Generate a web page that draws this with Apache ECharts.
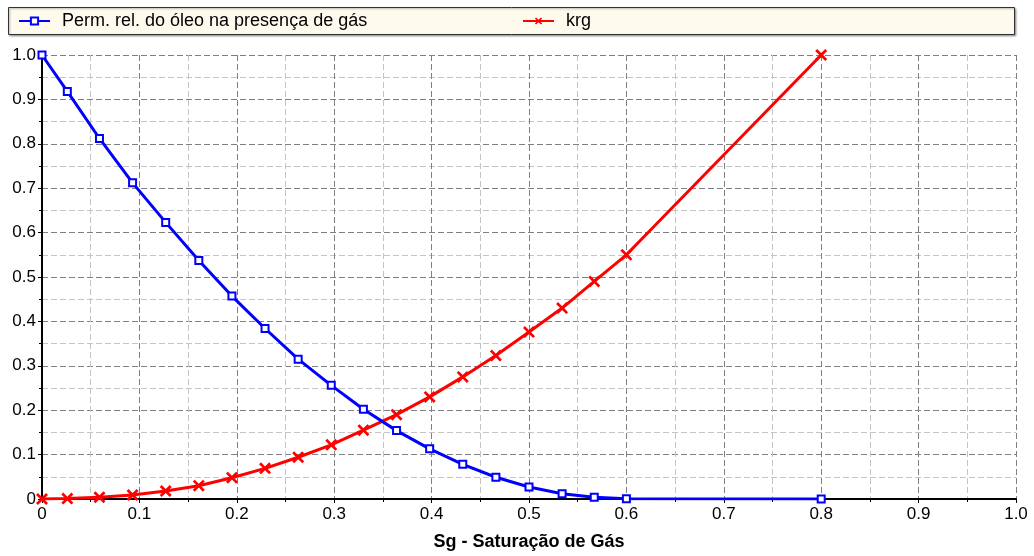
<!DOCTYPE html>
<html>
<head>
<meta charset="utf-8">
<title>Permeabilidade relativa</title>
<script src="https://cdn.jsdelivr.net/npm/echarts@6/dist/echarts.min.js"></script>
<style>
  html, body { margin: 0; padding: 0; background: #fff; overflow: hidden; }
  #main { width: 1034px; height: 556px; }
</style>
</head>
<body>
<div id="main"></div>
<script>
    // Sg - saturação de gás (eixo x)
    var sg  = [0, 0.026, 0.059, 0.093, 0.127, 0.161, 0.195, 0.229, 0.263, 0.297,
               0.330, 0.364, 0.398, 0.432, 0.466, 0.500, 0.534, 0.567, 0.600, 0.800];
    // permeabilidade relativa do óleo na presença de gás
    var kro = [1.000, 0.918, 0.812, 0.712, 0.623, 0.537, 0.457, 0.384, 0.315, 0.256,
               0.202, 0.154, 0.113, 0.078, 0.049, 0.027, 0.012, 0.004, 0.0005, 0];
    // permeabilidade relativa do gás
    var krg = [0, 0.001, 0.004, 0.009, 0.018, 0.030, 0.048, 0.069, 0.094, 0.122,
               0.155, 0.190, 0.230, 0.275, 0.323, 0.376, 0.430, 0.490, 0.550, 1.000];

    var nomeKro = 'Perm. rel. do óleo na presença de gás';
    var nomeKrg = 'krg';
    var nomeEixoX = 'Sg - Saturação de Gás';

    var fonte = '"Liberation Sans", Arial, sans-serif';
    // "x" desenhado como polígono
    var cruz = 'path://M0,1.6L1.6,0L5,3.4L8.4,0L10,1.6L6.6,5L10,8.4L8.4,10L5,6.6L1.6,10L0,8.4L3.4,5Z';

    function pares(xs, ys) {
        var out = [];
        for (var i = 0; i < xs.length; i++) {
            out.push([xs[i], ys[i]]);
        }
        return out;
    }

    function rotulo(v) {
        return v === 0 ? '0' : v.toFixed(1);
    }

    function eixo(extra) {
        var e = {
            type: 'value',
            min: 0,
            max: 1,
            interval: 0.1,
            axisLine: { show: true, onZero: false, lineStyle: { color: '#000', width: 2 } },
            axisTick: { show: true, length: 4, lineStyle: { color: '#000', width: 1 } },
            minorTick: { show: true, splitNumber: 2, length: 3, lineStyle: { color: '#000', width: 1 } },
            axisLabel: { color: '#000', fontSize: 17, fontFamily: fonte, formatter: rotulo },
            splitLine: { show: true, lineStyle: { color: '#808080', width: 1, type: [6, 3] } },
            minorSplitLine: { show: true, lineStyle: { color: '#c4c4c4', width: 1, type: [6, 3] } }
        };
        for (var k in extra) e[k] = extra[k];
        return e;
    }

    var myChart = echarts.init(document.getElementById('main'));

    var option = {
        animation: false,
        backgroundColor: '#fff',
        textStyle: { fontFamily: fonte },
        graphic: [
            {
                type: 'rect',
                shape: { x: 8.5, y: 7.5, width: 1006, height: 27 },
                style: {
                    fill: '#fffaee',
                    stroke: '#333',
                    lineWidth: 1,
                    shadowBlur: 2,
                    shadowOffsetX: 1,
                    shadowOffsetY: 1,
                    shadowColor: 'rgba(0,0,0,0.35)'
                },
                z: -1
            }
        ],
        legend: [
            {
                data: [nomeKro],
                left: 18,
                top: 12,
                padding: 0,
                itemWidth: 31,
                itemHeight: 9,
                textStyle: { color: '#000', fontSize: 18, fontFamily: fonte, padding: [0, 0, 0, 7] }
            },
            {
                data: [nomeKrg],
                left: 522,
                top: 12,
                padding: 0,
                itemWidth: 31,
                itemHeight: 9,
                textStyle: { color: '#000', fontSize: 18, fontFamily: fonte, padding: [0, 0, 0, 7] }
            }
        ],
        grid: { left: 42, top: 55, width: 974, height: 447, containLabel: false },
        xAxis: eixo({
            name: nomeEixoX,
            nameLocation: 'middle',
            nameGap: 34,
            nameTextStyle: { color: '#000', fontSize: 18, fontWeight: 'bold', fontFamily: fonte },
            axisLabel: { color: '#000', fontSize: 17, fontFamily: fonte, formatter: rotulo, margin: 7 }
        }),
        yAxis: eixo({
            axisLabel: { color: '#000', fontSize: 17, fontFamily: fonte, formatter: rotulo, margin: 6 }
        }),
        series: [
            {
                name: nomeKro,
                type: 'line',
                data: pares(sg, kro),
                symbol: 'emptyRect',
                symbolSize: 7,
                showAllSymbol: true,
                itemStyle: { color: '#0000ff', borderWidth: 2 },
                lineStyle: { color: '#0000ff', width: 3 },
                z: 3
            },
            {
                name: nomeKrg,
                type: 'line',
                data: pares(sg, krg),
                symbol: cruz,
                symbolSize: 12,
                showAllSymbol: true,
                itemStyle: { color: '#ff0000' },
                lineStyle: { color: '#ff0000', width: 3 },
                z: 2
            }
        ]
    };

    myChart.setOption(option);
    window.onresize = myChart.resize;
</script>
</body>
</html>
